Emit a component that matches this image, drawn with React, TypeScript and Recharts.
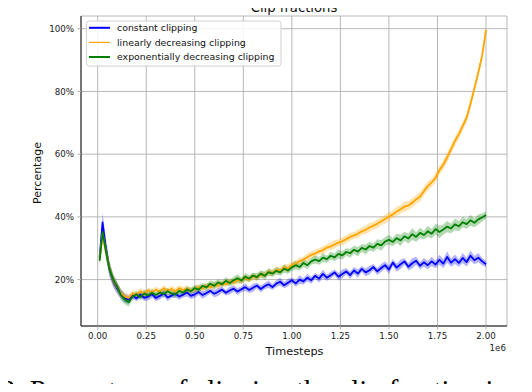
import React from 'react';
import { ComposedChart, Line, Area, XAxis, YAxis, CartesianGrid } from 'recharts';

const timesteps = [
  10000, 25000, 40000, 60000, 80000,
  100000, 120000, 140000, 160000, 180000, 200000, 220000, 240000, 260000, 280000,
  300000, 320000, 340000, 360000, 380000, 400000, 420000, 440000, 460000, 480000,
  500000, 520000, 540000, 560000, 580000, 600000, 620000, 640000, 660000, 680000,
  700000, 720000, 740000, 760000, 780000, 800000, 820000, 840000, 860000, 880000,
  900000, 920000, 940000, 960000, 980000, 1000000, 1020000, 1040000, 1060000, 1080000,
  1100000, 1120000, 1140000, 1160000, 1180000, 1200000, 1220000, 1240000, 1260000, 1280000,
  1300000, 1320000, 1340000, 1360000, 1380000, 1400000, 1420000, 1440000, 1460000, 1480000,
  1500000, 1520000, 1540000, 1560000, 1580000, 1600000, 1620000, 1640000, 1660000, 1680000,
  1700000, 1720000, 1740000, 1760000, 1780000, 1800000, 1820000, 1840000, 1860000, 1880000,
  1900000, 1920000, 1940000, 1960000, 1980000, 2000000,
];

const constantClipping = [
  27, 38.2, 31, 23.5, 19.5,
  17.2, 15.4, 14.1, 13.6, 14.9, 14.0, 15.3, 14.2, 14.6, 15.4,
  14.1, 14.8, 15.6, 14.3, 14.9, 15.5, 14.6, 15.2, 15.9, 14.8,
  15.3, 16.0, 15.1, 15.7, 16.4, 15.5, 16.1, 16.8, 15.8, 16.5,
  17.1, 16.2, 16.9, 17.6, 16.7, 17.4, 18.1, 17.0, 17.9, 18.5,
  17.6, 18.7, 19.3, 18.2, 19.0, 19.8, 18.8, 20.0, 19.4, 20.6,
  19.8, 21.2, 20.3, 21.8, 20.6, 21.4, 22.3, 20.9, 21.8, 22.6,
  21.4, 22.9, 21.9, 23.4, 22.3, 23.0, 24.0, 22.6, 23.7, 24.6,
  23.2, 25.4, 23.8, 24.9, 25.8, 24.1, 25.2, 26.0, 24.4, 25.5,
  24.6, 25.8, 24.8, 26.3, 25.1, 27.2, 25.4, 26.5, 25.3, 26.9,
  25.6, 27.6, 26.2, 27.0, 25.8, 24.9,
];

const linearClipping = [
  26.5, 34.6, 30, 23.8, 19.8,
  17.6, 15.6, 14.6, 14.2, 15.6, 15.1, 16.3, 15.4, 16.6, 15.9,
  16.8, 16.1, 17.2, 16.4, 17.0, 16.2, 17.3, 16.6, 17.1, 16.5,
  16.9, 17.6, 17.1, 18.1, 17.5, 18.4, 18.0, 18.9, 18.5, 19.4,
  19.0, 19.9, 19.6, 20.5, 20.1, 21.0, 20.7, 21.6, 21.5, 22.4,
  22.2, 23.1, 22.9, 23.9, 23.6, 24.8, 25.0, 25.9, 26.4, 27.1,
  27.9, 28.3, 29.0, 29.4, 30.2, 30.6, 31.2, 31.8, 32.2, 32.9,
  33.6, 34.1, 34.6, 35.4, 35.9, 36.6, 37.2, 37.8, 38.6, 39.3,
  40.1, 40.8, 41.7, 42.4, 43.3, 43.6, 44.5, 45.6, 46.4, 48.2,
  49.8, 51.0, 52.4, 54.9, 56.6, 59.0, 61.6, 64.2, 66.3, 69.0,
  71.6, 76.1, 80.9, 86.0, 91.4, 99.6,
];

const expClipping = [
  26, 35.2, 30, 23.5, 20,
  17.8, 15.0, 13.6, 12.8, 14.6, 15.3, 14.4, 15.6, 14.9, 15.8,
  15.1, 15.9, 15.4, 16.3, 15.6, 15.2, 16.4, 15.8, 16.9, 16.3,
  17.3, 16.8, 18.0, 17.5, 18.7, 18.0, 19.1, 18.5, 19.6, 18.9,
  19.8, 20.4, 19.7, 20.9, 20.3, 21.3, 20.8, 21.9, 21.2, 22.4,
  21.9, 22.8, 22.3, 23.5, 22.9, 23.9, 24.6, 24.0, 25.3, 24.6,
  25.8, 26.4, 25.9, 27.0, 26.5, 27.6, 27.1, 28.2, 27.7, 28.8,
  28.4, 29.5, 28.9, 30.1, 29.6, 30.7, 30.2, 31.4, 30.9, 32.1,
  32.7, 32.0, 33.2, 32.5, 33.8, 33.1, 34.5, 33.6, 34.9, 34.2,
  35.4, 34.6, 36.1, 35.2, 36.0, 36.9, 36.3, 37.6, 37.0, 38.3,
  37.7, 38.9, 38.1, 39.2, 39.8, 40.6,
];

const constantSpread = [
  1.5, 3, 3, 2.5, 2,
  1.8, 1.6, 1.5, 1.3, 1.1, 0.9, 1.2, 1.0, 1.3, 1.1,
  0.9, 1.2, 1.0, 1.1, 0.8, 1.2, 1.0, 0.9, 1.3, 1.0,
  1.1, 0.9, 1.2, 1.0, 0.8, 1.1, 1.3, 1.0, 0.9, 1.2,
  1.0, 1.1, 0.9, 1.2, 1.0, 1.3, 0.9, 1.1, 1.0, 1.2,
  0.9, 1.1, 1.3, 1.0, 1.2, 0.9, 1.1, 1.4, 1.0, 1.2,
  1.1, 0.9, 1.2, 1.3, 1.0, 1.1, 0.9, 1.2, 1.4, 1.0,
  1.2, 1.1, 1.3, 0.9, 1.2, 1.4, 1.0, 1.1, 1.3, 1.2,
  1.4, 1.1, 1.3, 1.5, 1.0, 1.2, 1.6, 1.3, 1.1, 1.4,
  1.3, 1.5, 1.2, 1.6, 1.4, 1.8, 1.3, 1.5, 1.2, 1.6,
  1.4, 1.7, 1.3, 1.5, 1.2, 1.0,
];

const linearSpread = [
  2, 2.5, 2.5, 2, 1.8,
  1.4, 1.3, 1.2, 1.1, 1.0, 0.9, 1.1, 1.0, 0.9, 1.1,
  1.0, 0.9, 1.1, 0.8, 1.0, 1.1, 0.9, 1.0, 1.2, 0.9,
  1.0, 1.1, 0.9, 1.0, 1.2, 0.9, 1.1, 1.0, 0.9, 1.1,
  1.0, 1.2, 0.9, 1.1, 1.0, 1.2, 1.0, 1.1, 0.9, 1.2,
  1.1, 1.0, 1.2, 1.1, 1.3, 1.0, 1.2, 1.1, 1.0, 1.3,
  1.1, 1.2, 1.0, 1.3, 1.1, 1.2, 1.4, 1.1, 1.3, 1.2,
  1.3, 1.1, 1.4, 1.2, 1.3, 1.5, 1.2, 1.4, 1.3, 1.5,
  1.4, 1.2, 1.5, 1.3, 1.6, 1.4, 1.5, 1.3, 1.6, 1.4,
  1.5, 1.3, 1.6, 1.4, 1.5, 1.7, 1.4, 1.6, 1.3, 1.5,
  1.4, 1.6, 1.3, 1.5, 1.2, 1.0,
];

const expSpread = [
  2, 2.5, 2.5, 2, 1.8,
  1.6, 1.5, 1.5, 1.4, 1.0, 1.1, 0.9, 1.2, 1.0, 1.1,
  0.9, 1.0, 1.2, 1.0, 0.9, 1.1, 1.0, 1.2, 0.9, 1.1,
  1.0, 1.2, 0.9, 1.1, 1.0, 1.3, 1.0, 0.9, 1.2, 1.0,
  1.1, 1.3, 1.0, 1.2, 1.1, 0.9, 1.2, 1.0, 1.3, 1.1,
  1.0, 1.2, 1.1, 1.3, 1.0, 1.2, 1.4, 1.1, 1.3, 1.2,
  1.1, 1.3, 1.2, 1.4, 1.1, 1.3, 1.2, 1.5, 1.3, 1.2,
  1.4, 1.3, 1.5, 1.2, 1.6, 1.4, 1.3, 1.5, 1.7, 1.4,
  1.6, 1.3, 1.5, 1.8, 1.4, 1.6, 1.9, 1.5, 1.7, 1.4,
  1.8, 1.5, 1.7, 2.0, 1.6, 1.8, 1.5, 1.9, 1.6, 1.7,
  1.5, 1.8, 1.4, 1.6, 1.3, 1.2,
];

const xTicks = [0, 250000, 500000, 750000, 1000000, 1250000, 1500000, 1750000, 2000000];
const yTicks = [20, 40, 60, 80, 100];

const seriesNames = ['constant clipping', 'linearly decreasing clipping', 'exponentially decreasing clipping'];
const seriesColors = ['#0000ff', '#ffa500', '#008000'];

const data = timesteps.map((t, i) => ({
  t,
  constant: constantClipping[i],
  constantBand: [constantClipping[i] - constantSpread[i], constantClipping[i] + constantSpread[i]],
  linear: linearClipping[i],
  linearBand: [linearClipping[i] - linearSpread[i], linearClipping[i] + linearSpread[i]],
  exp: expClipping[i],
  expBand: [expClipping[i] - expSpread[i], expClipping[i] + expSpread[i]],
}));

const W = 532;
const H = 392;
const FONT = 'DejaVu Sans';
const tickStyle = { fill: '#222', fontSize: 8.7, fontFamily: FONT };

export default function App() {
  const keys = ['constant', 'linear', 'exp'];
  return (
    <div style={{ position: 'relative', width: W, height: H, margin: -8, overflow: 'hidden', background: '#fff' }}>
      <ComposedChart width={W} height={H} data={data} margin={{ top: 16, right: 25, bottom: 36, left: 41 }}>
        <CartesianGrid stroke="#b0b0b0" strokeWidth={0.9} />
        <XAxis
          type="number"
          dataKey="t"
          domain={[-86000, 2108000]}
          ticks={xTicks}
          interval={0}
          allowDataOverflow
          height={30}
          tickSize={3.5}
          tickMargin={3.5}
          tickFormatter={(v: number) => (v / 1e6).toFixed(2)}
          axisLine={{ stroke: '#111', strokeWidth: 1 }}
          tickLine={{ stroke: '#b0b0b0' }}
          tick={tickStyle}
        />
        <YAxis
          type="number"
          domain={[5.2, 104.05]}
          ticks={yTicks}
          interval={0}
          allowDataOverflow
          width={40}
          tickSize={3.5}
          tickMargin={3.5}
          tickFormatter={(v: number) => `${v}%`}
          axisLine={{ stroke: '#111', strokeWidth: 1 }}
          tickLine={{ stroke: '#b0b0b0' }}
          tick={tickStyle}
        />
        {keys.map((k, i) => [
          <Area
            key={k + 'band'}
            dataKey={k + 'Band'}
            type="linear"
            stroke="none"
            fill={seriesColors[i]}
            fillOpacity={0.3}
            isAnimationActive={false}
            activeDot={false}
          />,
          <Line
            key={k + 'line'}
            dataKey={k}
            type="linear"
            stroke={seriesColors[i]}
            strokeWidth={1.8}
            strokeLinejoin="round"
            dot={false}
            activeDot={false}
            isAnimationActive={false}
          />,
        ])}
      </ComposedChart>
      <svg width={W} height={H} style={{ position: 'absolute', left: 0, top: 0, pointerEvents: 'none' }}>
        <text x={294} y={11.5} textAnchor="middle" fontFamily={FONT} fontSize={13.2} fill="#111">Clip fractions</text>
        <text x={41} y={173} textAnchor="middle" fontFamily={FONT} fontSize={11} fill="#111" transform="rotate(-90 41 173)">Percentage</text>
        <text x={294.5} y={355} textAnchor="middle" fontFamily={FONT} fontSize={11.3} fill="#111">Timesteps</text>
        <text x={506} y={351} textAnchor="end" fontFamily={FONT} fontSize={8.7} fill="#222">1e6</text>
        <rect x={86.5} y={21} width={194.5} height={45} rx={2.5} fill="#fff" fillOpacity={0.85} stroke="#d0d0d0" strokeWidth={1} />
        {seriesNames.map((name, i) => (
          <g key={name}>
            <line x1={89} x2={110} y1={27.8 + i * 14.6} y2={27.8 + i * 14.6} stroke={seriesColors[i]} strokeWidth={i === 1 ? 1.2 : 2} />
            <text x={117} y={30.9 + i * 14.6} fontFamily={FONT} fontSize={9.4} fill="#111">{name}</text>
          </g>
        ))}
        <text x={1} y={400} fontFamily="Liberation Serif" fontSize={28.8} fill="#000">2. Percentage of clipping the clip fraction in</text>
      </svg>
    </div>
  );
}
